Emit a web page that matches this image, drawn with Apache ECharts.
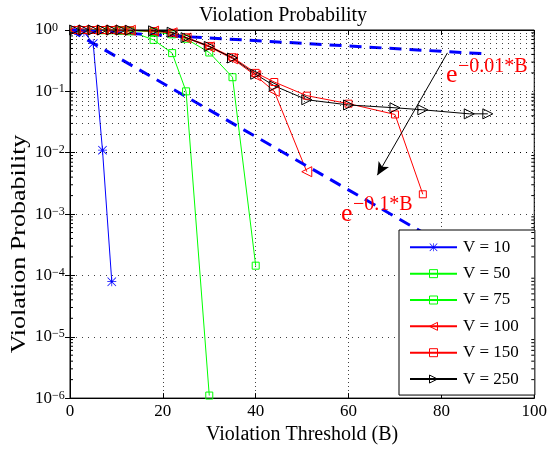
<!DOCTYPE html>
<html><head><meta charset="utf-8">
<script src="https://cdn.jsdelivr.net/npm/echarts@6/dist/echarts.min.js"></script>
<style>html,body{margin:0;padding:0;background:#fff}#c{width:550px;height:450px}</style>
</head><body><div id="c"></div>
<script>
// ---- data ----
const xTicks = [0, 20, 40, 60, 80, 100];
const seriesNames = ['V = 10', 'V = 50', 'V = 75', 'V = 100', 'V = 150', 'V = 250'];
const v10X = [1, 3, 5, 7, 9];
const v10Y = [0.99, 0.93, 0.6, 0.011, 0.000079];
const v50X = [1, 3, 5, 7, 9, 11, 13, 18, 22, 25, 30];
const v50Y = [1, 1, 1, 0.99, 0.99, 0.97, 0.95, 0.69, 0.42, 0.1, 0.0000011];
const v75X = [1, 3, 5, 7, 9, 11, 13, 18, 22, 25, 30, 35, 40];
const v75Y = [1, 1, 1, 1, 1, 0.99, 0.98, 0.93, 0.85, 0.72, 0.43, 0.17, 0.000144];
const v100X = [1, 3, 5, 7, 9, 11, 13, 18, 22, 25, 30, 35, 40, 44, 51];
const v100Y = [1, 1, 1, 1, 1, 0.99, 0.99, 0.96, 0.9, 0.74, 0.53, 0.34, 0.18, 0.1, 0.0049];
const v150X = [1, 3, 5, 7, 9, 11, 13, 18, 22, 25, 30, 35, 40, 44, 51, 60, 70, 76];
const v150Y = [1, 1, 1, 1, 1, 0.99, 0.99, 0.96, 0.9, 0.76, 0.55, 0.36, 0.2, 0.142, 0.085, 0.063, 0.042, 0.0021];
const v250X = [1, 3, 5, 7, 9, 11, 13, 18, 22, 25, 30, 35, 40, 44, 51, 60, 70, 76, 86, 90];
const v250Y = [1, 1, 1, 1, 1, 1, 0.99, 0.97, 0.92, 0.75, 0.54, 0.35, 0.19, 0.123, 0.073, 0.06, 0.054, 0.05, 0.043, 0.043];
const bound1X = [0, 90];
const bound1Y = [1, 0.4066];
const bound2X = [0, 90];
const bound2Y = [1, 0.000123];
const arrowFrom = [81.3, 0.424];
const arrowTo = [66.2, 0.0043];

// minor log ticks (2..9 x 10^k)
const minorY = [];
for (let k = -6; k < 0; k++) for (let m = 2; m <= 9; m++) minorY.push(+(m * Math.pow(10, k)).toPrecision(3));

const FONT = '"Liberation Serif", "Times New Roman", serif';
const zip = (xs, ys) => xs.map((x, i) => [x, ys[i]]);
const starPath = 'path://M4.6,0 h0.8 v10 h-0.8 z M0,4.6 h10 v0.8 h-10 z M0.6,0 L10,9.4 L9.4,10 L0,0.6 z M9.4,0 L10,0.6 L0.6,10 L0,9.4 z';

function dataSeries(name, xs, ys, color, symbol, size, rotate, filled) {
  return {
    name, type: 'line', data: zip(xs, ys), symbol, symbolSize: size, symbolRotate: rotate,
    showAllSymbol: true, z: 3,
    lineStyle: { color, width: 1 },
    itemStyle: filled ? { color, borderWidth: 0 } : { color: 'none', borderColor: color, borderWidth: 1 }
  };
}

const chart = echarts.init(document.getElementById('c'), null, { renderer: 'canvas' });
const option = {
  animation: false,
  backgroundColor: '#fff',
  title: {
    text: 'Violation Probability', left: 278, top: 1, textAlign: 'center',
    textStyle: { fontFamily: FONT, fontSize: 20, fontWeight: 'normal', color: '#000' }
  },
  grid: { left: 70, right: 10, top: 30, bottom: 50, show: true, borderColor: '#000', borderWidth: 1, backgroundColor: '#fff' },
  legend: {
    data: seriesNames, orient: 'vertical', left: 399, top: 230,
    itemWidth: 47, itemHeight: 10, itemGap: 9.35,
    padding: [8.8, 16, 7.5, 10],
    backgroundColor: '#fff', borderColor: '#000', borderWidth: 1, borderRadius: 0,
    itemStyle: { borderWidth: 1 },
    textStyle: { fontFamily: FONT, fontSize: 17, color: '#000', padding: [0, 0, 0, 1] },
    selectedMode: false
  },
  xAxis: [{
    type: 'value', min: 0, max: 100, interval: 20, position: 'bottom',
    name: 'Violation Threshold (B)', nameLocation: 'middle', nameGap: 22,
    nameTextStyle: { fontFamily: FONT, fontSize: 20, color: '#000' },
    axisLine: { show: true, lineStyle: { color: '#000', width: 1 } },
    axisTick: { show: true, inside: true, length: 5, lineStyle: { color: '#000' } },
    axisLabel: { fontFamily: FONT, fontSize: 17, color: '#000', margin: 5, formatter: v => xTicks.includes(v) ? String(v) : '' },
    splitLine: { show: true, lineStyle: { color: '#000', width: 1, type: [1, 3], opacity: 0.75 } }
  }, {
    type: 'value', min: 0, max: 100, interval: 20, position: 'top',
    axisLine: { show: true, lineStyle: { color: '#000' } },
    axisTick: { show: true, inside: true, length: 5, lineStyle: { color: '#000' } },
    axisLabel: { show: false }, splitLine: { show: false }
  }],
  yAxis: [{
    type: 'log', logBase: 10, min: 1e-6, max: 1, splitNumber: 6, position: 'left',
    axisLine: { show: true, lineStyle: { color: '#000' } },
    axisTick: { show: true, inside: true, length: 5, lineStyle: { color: '#000' } },
    axisLabel: {
      align: 'left', margin: 35,
      formatter: v => { const e = Math.round(Math.log10(v)); return '{b|10}{s|' + (e < 0 ? '\u2212' + (-e) : e) + '}'; },
      rich: {
        b: { fontFamily: FONT, fontSize: 17, color: '#000', lineHeight: 17, padding: [3, 0, 0, 0], verticalAlign: 'bottom' },
        s: { fontFamily: FONT, fontSize: 12, color: '#000', lineHeight: 8, verticalAlign: 'top' }
      }
    },
    splitLine: { show: true, lineStyle: { color: '#000', width: 1, type: [1, 5], opacity: 0.75 } }
  }, {
    type: 'log', logBase: 10, min: 1e-6, max: 1, splitNumber: 6, position: 'right',
    axisLine: { show: true, lineStyle: { color: '#000' } },
    axisTick: { show: true, inside: true, length: 5, lineStyle: { color: '#000' } },
    axisLabel: { show: false }, splitLine: { show: false }
  }],
  series: [
    {
      name: '_minorgrid', type: 'line', data: [], silent: true, z: 1,
      markLine: {
        silent: true, symbol: 'none', label: { show: false }, animation: false,
        lineStyle: { color: '#000', width: 1, type: [1, 5], opacity: 0.75 },
        emphasis: { disabled: true },
        data: minorY.map(v => ({ yAxis: v }))
      }
    },
    {
      name: '_minorticks', type: 'custom', silent: true, z: 4,
      data: minorY.map(v => [0, v]),
      renderItem: (p, api) => {
        const y = api.coord([0, api.value(1)])[1];
        const xl = api.coord([0, 1])[0];
        const xr = api.coord([100, 1])[0];
        return { type: 'group', children: [
          { type: 'line', shape: { x1: xl, y1: y, x2: xl + 3, y2: y }, style: { stroke: '#000', lineWidth: 1 } },
          { type: 'line', shape: { x1: xr, y1: y, x2: xr - 3, y2: y }, style: { stroke: '#000', lineWidth: 1 } }
        ] };
      }
    },
    dataSeries('V = 10', v10X, v10Y, '#0000ff', starPath, 9, 0, true),
    dataSeries('V = 50', v50X, v50Y, '#00ff00', 'rect', 7, 0, false),
    dataSeries('V = 75', v75X, v75Y, '#00ff00', 'rect', 7, 0, false),
    dataSeries('V = 100', v100X, v100Y, '#ff0000', 'triangle', 10, 90, false),
    dataSeries('V = 150', v150X, v150Y, '#ff0000', 'rect', 7, 0, false),
    dataSeries('V = 250', v250X, v250Y, '#000000', 'triangle', 10, -90, false),
    {
      name: '_b1', type: 'line', data: zip(bound1X, bound1Y), symbol: 'none', z: 3, silent: true,
      lineStyle: { color: '#0000ff', width: 3, type: [12, 8] }
    },
    {
      name: '_b2', type: 'line', data: zip(bound2X, bound2Y), symbol: 'none', z: 3, silent: true,
      lineStyle: { color: '#0000ff', width: 3, type: [12, 8] }
    },
    {
      name: '_arrow', type: 'line', data: [], silent: true, z: 3,
      markLine: {
        silent: true, symbol: ['none', 'arrow'], symbolSize: [9, 13], label: { show: false },
        lineStyle: { color: '#000', width: 1, type: 'solid' },
        emphasis: { disabled: true },
        data: [[{ coord: arrowFrom }, { coord: arrowTo }]]
      }
    }
  ],
  graphic: [
    { type: 'text', x: 446, y: 75, z: 10, style: { text: 'e', font: '26px ' + FONT, fill: '#ff0000', align: 'left', verticalAlign: 'middle' } },
    { type: 'text', x: 458, y: 67, z: 10, style: { text: '\u22120.01*B', font: '20px ' + FONT, fill: '#ff0000', align: 'left', verticalAlign: 'middle' } },
    { type: 'text', x: 341, y: 214, z: 10, style: { text: 'e', font: '26px ' + FONT, fill: '#ff0000', align: 'left', verticalAlign: 'middle' } },
    { type: 'text', x: 353, y: 204.5, z: 10, style: { text: '\u22120.1*B', font: '20px ' + FONT, fill: '#ff0000', align: 'left', verticalAlign: 'middle' } },
    { type: 'text', x: 20, y: 244, rotation: Math.PI / 2, scaleX: 1.3, style: { text: 'Violation Probability', font: '20px ' + FONT, fill: '#000', align: 'center', verticalAlign: 'middle' } }
  ]
};
chart.setOption(option);
</script>
</body></html>
